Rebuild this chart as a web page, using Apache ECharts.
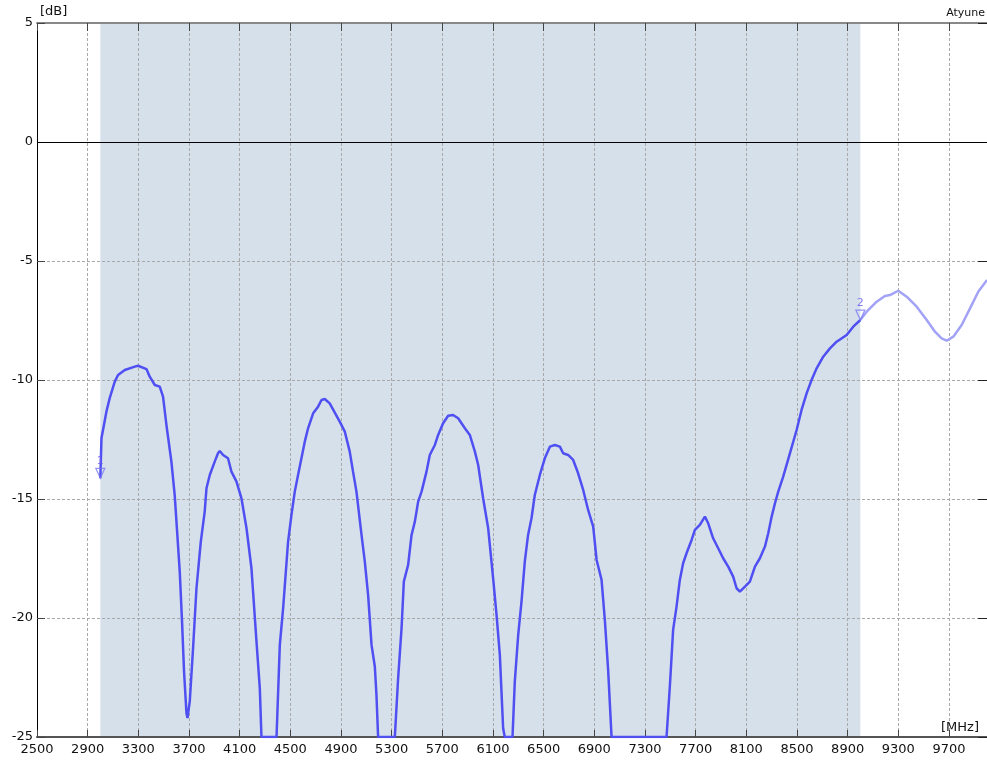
<!DOCTYPE html>
<html>
<head>
<meta charset="utf-8">
<script src="https://cdn.jsdelivr.net/npm/echarts@6/dist/echarts.min.js"></script>
<style>
html,body{margin:0;padding:0;background:#fff;}
#chart{width:987px;height:763px;}
</style>
</head>
<body>
<div id="chart"></div>
<script>
// ---- data ----
const freqMHz = [
  3000,3009,3048,3074,3114,3140,3193,3272,3298,3364,3390,3430,3469,3495,3522,3561,3587,3601,3627,3645,
  3661,3680,3688,3706,3732,3759,3793,3824,3838,3864,3903,3929,3943,3969,4008,4035,4075,4114,4154,4193,
  4233,4259,4272,4391,4417,4443,4482,4509,4535,4561,4614,4640,4680,4719,4746,4772,4811,4890,4930,4969,
  4995,5022,5062,5088,5114,5141,5167,5180,5193,5325,5351,5378,5396,5430,5457,5483,5509,5536,5575,5601,
  5641,5667,5706,5746,5785,5825,5878,5917,5957,5983,6022,6062,6101,6128,6154,6180,6193,6254,6272,6299,
  6325,6351,6377,6404,6430,6470,6509,6549,6588,6628,6654,6693,6733,6772,6812,6851,6891,6918,6957,6983,
  7009,7036,7470,7496,7522,7549,7575,7601,7628,7668,7694,7733,7773,7799,7838,7878,7917,7957,7996,8023,
  8049,8089,8128,8168,8207,8247,8273,8300,8326,8352,8391,8444,8497,8536,8576,8615,8655,8707,8760,8813,
  8892,8944,9000,9050,9129,9194,9234,9299,9366,9445,9524,9589,9642,9682,9734,9800,9866,9931,10000
];
const levelDb = [
  -14.13,-12.45,-11.33,-10.76,-10.07,-9.79,-9.58,-9.44,-9.40,-9.54,-9.86,-10.21,-10.28,-10.70,-11.90,-13.43,-14.83,-15.95,-18.05,-20.15,
  -22.26,-24.00,-24.20,-23.50,-21.27,-18.75,-16.80,-15.53,-14.55,-13.99,-13.43,-13.08,-12.98,-13.15,-13.29,-13.85,-14.27,-14.97,-16.23,-17.91,
  -21.00,-22.95,-25,-25,-21.13,-19.60,-16.80,-15.67,-14.69,-13.99,-12.59,-12.03,-11.40,-11.12,-10.84,-10.80,-10.98,-11.75,-12.17,-13.01,
  -13.85,-14.69,-16.51,-17.63,-19.03,-21.13,-22.04,-23.24,-25,-25,-22.53,-20.43,-18.47,-17.77,-16.51,-15.95,-15.11,-14.69,-13.85,-13.15,
  -12.73,-12.31,-11.82,-11.50,-11.47,-11.61,-12.03,-12.31,-13.01,-13.57,-14.97,-16.23,-18.33,-19.87,-21.55,-24.63,-25,-25,-22.68,-20.71,
  -19.31,-17.63,-16.51,-15.81,-14.83,-13.99,-13.29,-12.80,-12.73,-12.80,-13.08,-13.15,-13.36,-13.92,-14.62,-15.46,-16.16,-17.56,-18.40,-20.08,
  -22.18,-25,-25,-22.89,-20.50,-19.52,-18.40,-17.70,-17.28,-16.72,-16.30,-16.09,-15.74,-16.02,-16.65,-17.07,-17.49,-17.84,-18.26,-18.75,
  -18.89,-18.68,-18.47,-17.84,-17.49,-17.00,-16.44,-15.74,-15.18,-14.69,-14.06,-13.08,-12.10,-11.26,-10.56,-10.00,-9.51,-9.02,-8.67,-8.39,
  -8.11,-7.76,-7.48,-7.13,-6.71,-6.47,-6.43,-6.25,-6.50,-6.92,-7.48,-7.97,-8.25,-8.35,-8.18,-7.69,-6.99,-6.29,-5.80
];
const bandRange = [3000, 9000];
const markerFreq = [3000, 9000];
const markerDb = [-14.13, -7.48];
const markerNames = ['1', '2'];
const xRange = [2500, 10000], xStep = 400;
const yRange = [-25, 5], yStep = 5;

// ---- build ----
const pairs = freqMHz.map((f, i) => [f, levelDb[i]]);
const inBand = pairs.filter(p => p[0] <= bandRange[1]);
const outBand = pairs.filter(p => p[0] >= bandRange[1]);
const markers = markerFreq.map((f, i) => ({ value: [f, markerDb[i]], name: markerNames[i] }));

const FONT = 'DejaVu Sans';
const gridLine = { color: '#a8a8a8', width: 1, type: [3, 2] };

const chart = echarts.init(document.getElementById('chart'), null, { renderer: 'canvas' });
chart.setOption({
  animation: false,
  backgroundColor: '#ffffff',
  title: {
    text: 'Atyune', right: 2, top: 8, padding: 0,
    textStyle: { fontFamily: FONT, fontSize: 11, fontWeight: 'normal', color: '#111' }
  },
  grid: { left: 37, right: 0, top: 23, bottom: 26, containLabel: false },
  xAxis: [{
    type: 'value', min: xRange[0], max: xRange[1], interval: xStep,
    position: 'bottom',
    name: '[MHz]', nameLocation: 'end', nameGap: -8,
    nameTextStyle: { fontFamily: FONT, fontSize: 13, color: '#111', align: 'right', verticalAlign: 'bottom', padding: [0, 0, 3, 0] },
    axisLine: { show: true, onZero: false, lineStyle: { color: '#555', width: 2 } },
    axisTick: { show: true, inside: true, length: 7, lineStyle: { color: '#444' } },
    axisLabel: { fontFamily: FONT, fontSize: 13, color: '#111', margin: 6, showMaxLabel: false,
      formatter: v => String(v) },
    splitLine: { show: true, lineStyle: gridLine }
  }, {
    type: 'value', min: xRange[0], max: xRange[1], interval: xStep,
    position: 'top',
    axisLine: { show: true, onZero: false, lineStyle: { color: '#888', width: 2 } },
    axisTick: { show: true, inside: true, length: 8, lineStyle: { color: '#444' } },
    axisLabel: { show: false },
    splitLine: { show: false }
  }],
  yAxis: [{
    type: 'value', min: yRange[0], max: yRange[1], interval: yStep,
    position: 'left',
    name: '[dB]', nameLocation: 'end', nameGap: 5,
    nameTextStyle: { fontFamily: FONT, fontSize: 13, color: '#111', align: 'left', verticalAlign: 'bottom', padding: [0, 0, 0, 3] },
    axisLine: { show: true, onZero: false, lineStyle: { color: '#000', width: 1 } },
    axisTick: { show: true, inside: true, length: 8, lineStyle: { color: '#444' } },
    axisLabel: { fontFamily: FONT, fontSize: 13, color: '#111', margin: 4 },
    splitLine: { show: true, lineStyle: gridLine }
  }, {
    type: 'value', min: yRange[0], max: yRange[1], interval: yStep,
    position: 'right',
    axisLine: { show: true, onZero: false, lineStyle: { color: '#888', width: 1 } },
    axisTick: { show: true, inside: true, length: 9, lineStyle: { color: '#222' } },
    axisLabel: { show: false },
    splitLine: { show: false }
  }],
  series: [{
    type: 'line', name: 'in band', data: inBand,
    showSymbol: false, symbol: 'none', smooth: false,
    lineStyle: { color: '#4f4ff2', width: 2.5 },
    z: 3,
    markArea: {
      silent: true, z: -1,
      itemStyle: { color: '#d5e0eb' },
      data: [[{ xAxis: bandRange[0] }, { xAxis: bandRange[1] }]]
    },
    markLine: {
      silent: true, symbol: 'none', z: 1,
      label: { show: false },
      lineStyle: { color: '#000', width: 1, type: 'solid' },
      data: [{ yAxis: 0 }]
    }
  }, {
    type: 'line', name: 'out of band', data: outBand,
    showSymbol: false, symbol: 'none',
    lineStyle: { color: '#a2a2f7', width: 2.5 },
    z: 3
  }, {
    type: 'scatter', name: 'markers', data: markers,
    symbol: 'triangle', symbolSize: [9, 10], symbolRotate: 180, symbolOffset: [0, -5],
    itemStyle: { color: 'rgba(255,255,255,0)', borderColor: '#7878f2', borderWidth: 1.2 },
    label: { show: true, position: 'top', distance: 1, formatter: p => p.name,
      fontFamily: FONT, fontSize: 11, color: '#6a5af0' },
    z: 4
  }]
});
</script>
</body>
</html>
